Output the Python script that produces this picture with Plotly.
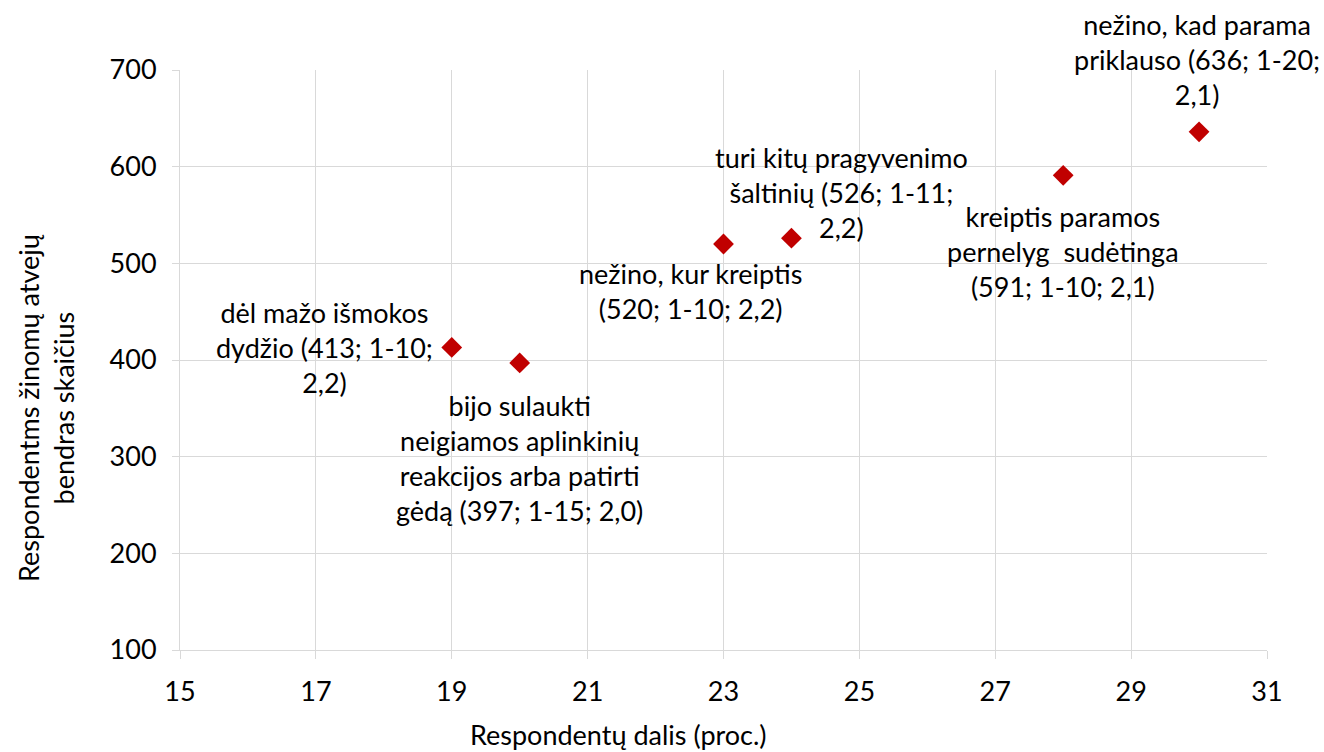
import plotly.graph_objects as go

# duomenys
share = [19, 20, 23, 24, 28, 30]
cases = [413, 397, 520, 526, 591, 636]
labels = [
    "dėl mažo išmokos<br>dydžio (413; 1-10;<br>2,2)",
    "bijo sulaukti<br>neigiamos aplinkinių<br>reakcijos arba patirti<br>gėdą (397; 1-15; 2,0)",
    "nežino, kur kreiptis<br>(520; 1-10; 2,2)",
    "turi kitų pragyvenimo<br>šaltinių (526; 1-11;<br>2,2)",
    "kreiptis paramos<br>pernelyg  sudėtinga<br>(591; 1-10; 2,1)",
    "nežino, kad parama<br>priklauso (636; 1-20;<br>2,1)",
]
x_ticks = [15, 17, 19, 21, 23, 25, 27, 29, 31]
y_ticks = [100, 200, 300, 400, 500, 600, 700]

# etikečių poslinkiai (px)
label_shift = [(-127, 0), (0, -95), (-33, -47), (50, 46), (0, -76), (-2, 72)]

FONT = "Lato"
FS = 27
fig = go.Figure()

fig.add_trace(go.Scatter(
    x=share, y=cases, mode="markers",
    marker=dict(symbol="diamond", size=16, color="#c00000"),
    showlegend=False,
))

for xv, yv, txt, (dx, dy) in zip(share, cases, labels, label_shift):
    fig.add_annotation(
        x=xv, y=yv, text=txt, showarrow=False,
        xshift=dx, yshift=dy, xanchor="center", yanchor="middle",
        align="center", font=dict(family=FONT, size=FS, color="#000000"),
    )

# ašių pavadinimai
fig.add_annotation(
    text="Respondentų dalis (proc.)", xref="paper", yref="paper",
    x=(618 - 180) / 1087, y=-84 / 580, showarrow=False,
    xanchor="center", yanchor="middle",
    font=dict(family=FONT, size=FS, color="#000000"),
)
fig.add_annotation(
    text="Respondentms žinomų atvejų<br>bendras skaičius", xref="paper", yref="paper",
    x=-134 / 1087, y=(650 - 408) / 580, showarrow=False, textangle=-90,
    xanchor="center", yanchor="middle",
    font=dict(family=FONT, size=FS, color="#000000"),
)

fig.update_xaxes(
    range=[15, 31], tickvals=x_ticks, showgrid=True, gridcolor="#d9d9d9",
    showline=True, linecolor="#d9d9d9", ticks="outside", ticklen=8,
    tickcolor="#d9d9d9", zeroline=False, ticklabelstandoff=10,
    tickfont=dict(family=FONT, size=FS, color="#000000"),
)
fig.update_yaxes(
    range=[100, 700], tickvals=y_ticks, showgrid=True, gridcolor="#d9d9d9",
    showline=True, linecolor="#d9d9d9", ticks="outside", ticklen=7,
    tickcolor="#d9d9d9", zeroline=False, ticklabelstandoff=10,
    tickfont=dict(family=FONT, size=FS, color="#000000"),
)

fig.update_layout(
    width=1324, height=752,
    margin=dict(l=180, r=57, t=70, b=102),
    plot_bgcolor="white", paper_bgcolor="white",
)

# be puslapio paraščių ir įrankių juostos
fig.write_html("out.html", config={"displayModeBar": False},
               post_script="document.body.style.margin='0';")
